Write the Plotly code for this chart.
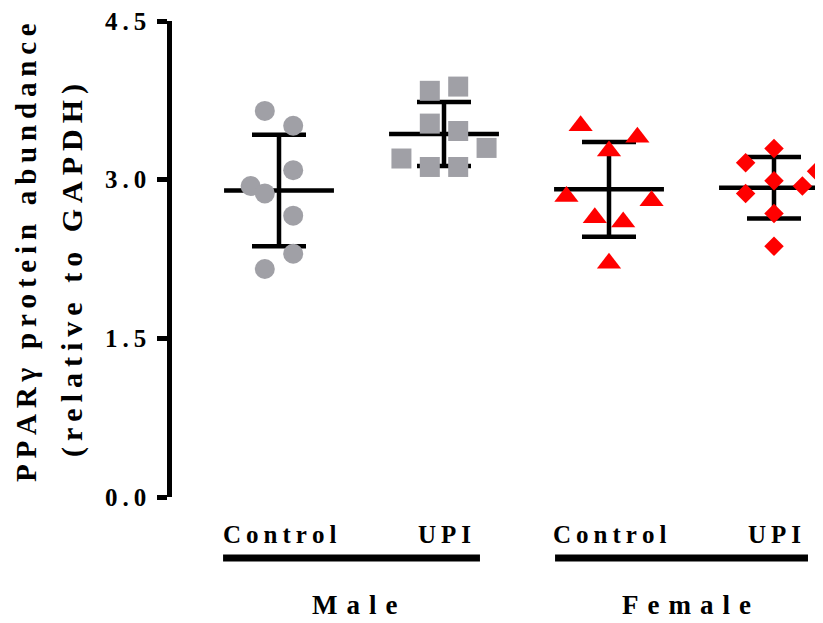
import numpy as np
import plotly.graph_objects as go

# ---------------- data ----------------
categories = ["Control", "UPI", "Control", "UPI"]
groups = ["Male", "Female"]

male_control = [3.65, 3.51, 3.09, 2.94, 2.87, 2.66, 2.30, 2.155]
male_upi = [3.84, 3.88, 3.53, 3.46, 3.20, 3.30, 3.12, 3.12]
female_control = [3.51, 3.40, 3.27, 2.84, 2.80, 2.64, 2.60, 2.21]
female_upi = [3.295, 3.16, 3.08, 2.99, 2.94, 2.87, 2.68, 2.37]

y_tick_values = [0.0, 1.5, 3.0, 4.5]
y_tick_labels = ["0.0", "1.5", "3.0", "4.5"]

y_title_1 = "PPARγ protein abundance"
y_title_2 = "(relative to GAPDH)"

# scatter column (jitter) index of each point, in units of one marker step
jitter_cols = [
    [-1, 1, 1, -2, -1, 1, 1, -1],
    [-1, 1, -1, 1, -3, 3, -1, 1],
    [-2, 2, 0, -3, 3, -1, 1, 0],
    [0, -2, 3, 0, 2, -2, 0, 0],
]

# ---------------- styling ----------------
GRAY = "#A0A0A6"
RED = "#FF0000"
FONT = "Liberation Serif"
series = [male_control, male_upi, female_control, female_upi]
symbols = ["circle", "square", "triangle-up", "diamond"]
colors = [GRAY, GRAY, RED, RED]
sizes = [20, 20, 21, 15]
step = 0.086
LW = 4.5

# page body has an 8px margin: figure is sized so that it fills the window
PAGE_OFF = 8
W, H = 823 - PAGE_OFF, 623 - PAGE_OFF
ML = 172 - PAGE_OFF           # plot-area left edge
MT = 21 - PAGE_OFF            # plot-area top (y = 4.5)
MB = H - (497 - PAGE_OFF)     # plot-area bottom (y = 0)
PLOT_W = W - ML
PLOT_H = H - MT - MB


def spaced(s, sep="\u2009"):
    return sep.join(list(s))


def px_to_paper_x(xr):
    return (xr - PAGE_OFF - ML) / PLOT_W


def px_to_paper_y(yr):
    return (H - MB - (yr - PAGE_OFF)) / PLOT_H


fig = go.Figure()

# mean lines and SD error bars (drawn under the markers)
for i, vals in enumerate(series):
    m = float(np.mean(vals))
    sd = float(np.std(vals, ddof=1))
    fig.add_trace(go.Scatter(
        x=[i - 0.333, i + 0.333], y=[m, m], mode="lines",
        line=dict(color="black", width=LW), showlegend=False, hoverinfo="skip"))
    fig.add_trace(go.Scatter(
        x=[i], y=[m], mode="markers", marker=dict(size=1, color="rgba(0,0,0,0)"),
        error_y=dict(type="data", array=[sd], visible=True, color="black",
                     thickness=LW, width=27),
        showlegend=False, hoverinfo="skip"))

# individual points
for i, vals in enumerate(series):
    xs = [i + c * step for c in jitter_cols[i]]
    fig.add_trace(go.Scatter(
        x=xs, y=vals, mode="markers",
        marker=dict(symbol=symbols[i], size=sizes[i], color=colors[i],
                    line=dict(width=0)),
        showlegend=False, cliponaxis=True))

fig.update_layout(
    width=W, height=H,
    margin=dict(l=ML, r=0, t=MT, b=MB, autoexpand=False),
    plot_bgcolor="white", paper_bgcolor="white",
    font=dict(family=FONT, color="black", size=20, weight="bold"),
    showlegend=False,
)
fig.update_xaxes(range=[(172 - 279) / 165, (823 - 279) / 165], visible=False,
                 showgrid=False, zeroline=False)
fig.update_yaxes(range=[0, 4.5], tickmode="array", tickvals=y_tick_values,
                 ticktext=[spaced(t) for t in y_tick_labels],
                 ticks="outside", ticklen=10, tickwidth=LW, tickcolor="black",
                 ticklabelstandoff=6, ticklabeloverflow="allow",
                 showline=True, linewidth=LW, linecolor="black",
                 showgrid=False, zeroline=False,
                 tickfont=dict(family=FONT, size=25, color="black", weight="bold"))

# y-axis title (two rotated lines)
for txt, xp, yp, fs in [(y_title_1, 26, 253, 29), (y_title_2, 72, 271, 30)]:
    fig.add_annotation(
        text=spaced(txt), textangle=-90, showarrow=False,
        xref="paper", yref="paper",
        x=px_to_paper_x(xp), y=px_to_paper_y(yp),
        xanchor="center", yanchor="middle",
        font=dict(family=FONT, size=fs, color="black", weight="bold"))

# category labels
for i, cat in enumerate(categories):
    fig.add_annotation(
        text=spaced(cat), x=i, xref="x", y=px_to_paper_y(534), yref="paper",
        showarrow=False, xanchor="center", yanchor="middle",
        font=dict(family=FONT, size=25, color="black", weight="bold"))

# group underline bars and group labels
group_bars = [(-0.339, 1.218), (1.673, 3.206)]
group_label_x = [0.46, 2.47]
for g, (x0, x1), gx in zip(groups, group_bars, group_label_x):
    fig.add_shape(type="line", xref="x", yref="paper", x0=x0, x1=x1,
                  y0=px_to_paper_y(558), y1=px_to_paper_y(558),
                  line=dict(color="black", width=7))
    fig.add_annotation(
        text=spaced(g, "\u2004"), x=gx, xref="x", y=px_to_paper_y(622), yref="paper",
        showarrow=False, xanchor="center", yanchor="bottom",
        font=dict(family=FONT, size=27, color="black", weight="bold"))

fig.write_html("out.html")
